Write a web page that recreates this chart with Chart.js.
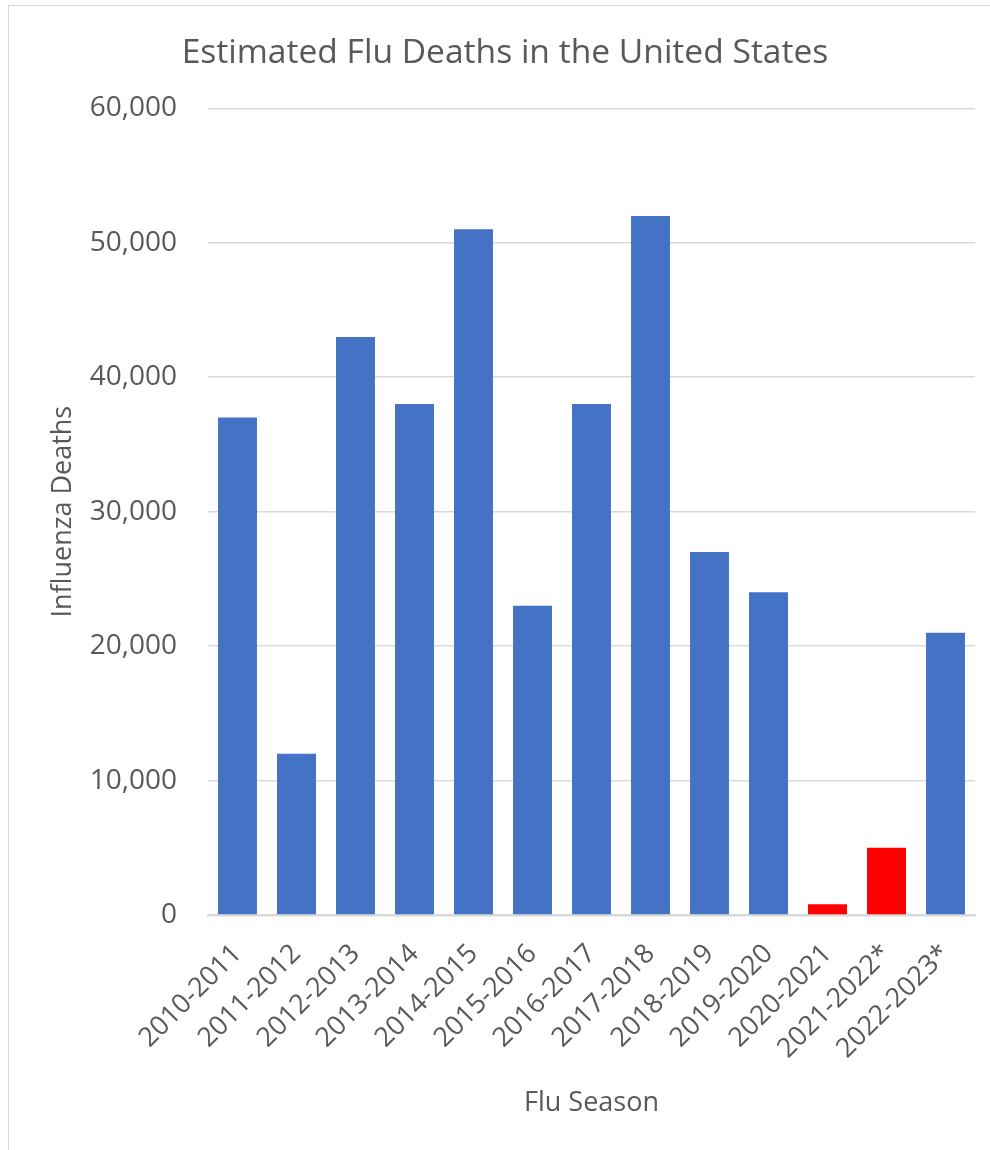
<!DOCTYPE html>
<html>
<head>
<meta charset="utf-8">
<script src="https://cdn.jsdelivr.net/npm/chart.js@4.4.1/dist/chart.umd.min.js"></script>
<style>
  html, body { margin: 0; padding: 0; background: #ffffff; }
  #wrap { position: relative; width: 990px; height: 1150px; overflow: hidden; }
  #frame { position: absolute; left: 8px; top: 5px; width: 1200px; height: 1400px; border: 1.5px solid #d9d9d9; box-sizing: border-box; }
  canvas { position: absolute; left: 0; top: 0; }
</style>
</head>
<body>
<div id="wrap">
  <div id="frame"></div>
  <canvas id="c" width="990" height="1150"></canvas>
</div>
<script>
const seasons = ["2010-2011", "2011-2012", "2012-2013", "2013-2014", "2014-2015", "2015-2016", "2016-2017", "2017-2018", "2018-2019", "2019-2020", "2020-2021", "2021-2022*", "2022-2023*"];
const deaths = [37000, 12000, 43000, 38000, 51000, 23000, 38000, 52000, 27000, 24000, 800, 5000, 21000];
const highlighted = ["2020-2021", "2021-2022*"];
const yTicks = [0, 10000, 20000, 30000, 40000, 50000, 60000];

const BLUE = "#4472C4";
const RED = "#FF0000";
const TEXT = "#595959";
const GRID = "#d9d9d9";
const FONT = "'Open Sans', sans-serif";

const barColors = seasons.map(s => highlighted.includes(s) ? RED : BLUE);

new Chart(document.getElementById("c"), {
  type: "bar",
  data: {
    labels: seasons,
    datasets: [{
      data: deaths,
      backgroundColor: barColors,
      borderWidth: 0,
      barPercentage: 0.66,
      categoryPercentage: 1.0
    }]
  },
  options: {
    responsive: false,
    animation: false,
    devicePixelRatio: 1,
    layout: { padding: { left: 35, right: 15, top: 0, bottom: 0 } },
    plugins: {
      legend: { display: false },
      tooltip: { enabled: false },
      title: {
        display: true,
        text: "Estimated Flu Deaths in the United States",
        color: TEXT,
        font: { family: FONT, size: 33.6, weight: "normal" },
        padding: { top: 33, bottom: 35 }
      }
    },
    scales: {
      x: {
        grid: { display: false },
        border: { display: true, color: GRID, width: 2.5 },
        ticks: {
          color: TEXT,
          font: { family: FONT, size: 27 },
          minRotation: 45,
          maxRotation: 45,
          autoSkip: false,
          padding: 15
        },
        title: {
          display: true,
          text: "Flu Season",
          color: TEXT,
          font: { family: FONT, size: 27 },
          padding: { top: 0, bottom: 30 }
        },
        afterFit: s => { s.height = 235; }
      },
      y: {
        min: 0,
        max: 60000,
        afterBuildTicks: s => { s.ticks = yTicks.map(v => ({ value: v })); },
        border: { display: false },
        grid: { color: GRID, lineWidth: 1.5, drawTicks: false },
        ticks: {
          color: TEXT,
          font: { family: FONT, size: 28 },
          padding: 31,
          callback: v => Number(v).toLocaleString("en-US")
        },
        title: {
          display: true,
          text: "Influenza Deaths",
          color: TEXT,
          font: { family: FONT, size: 27 },
          padding: { top: 12, bottom: 0 }
        },
        afterFit: s => { s.width = 173; }
      }
    }
  }
});
</script>
</body>
</html>
